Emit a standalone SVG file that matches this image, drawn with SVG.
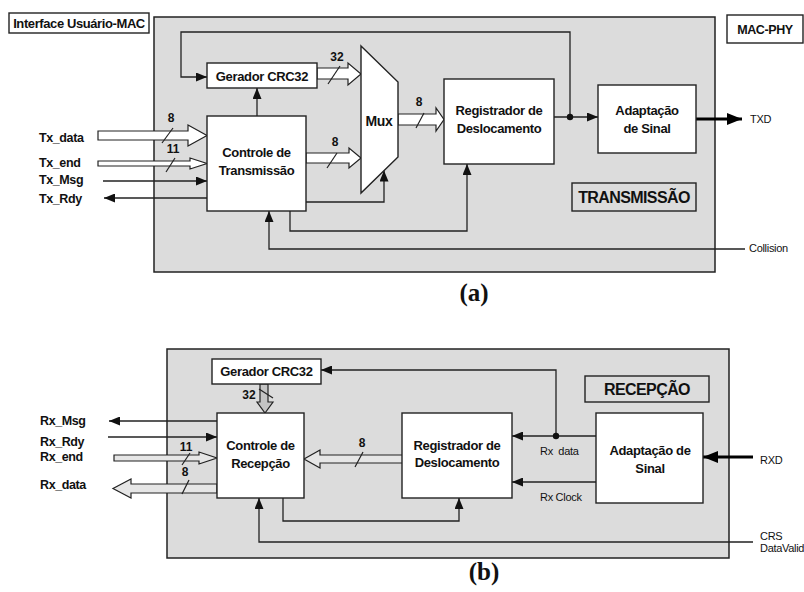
<svg xmlns="http://www.w3.org/2000/svg" width="804" height="592" viewBox="0 0 804 592">
  <style>
    .panel { fill: #dcdcdc; stroke: #222; stroke-width: 1.5; }
    .box { fill: #fff; stroke: #222; stroke-width: 1.4; }
    .tag { fill: #dcdcdc; stroke: #222; stroke-width: 1.4; }
    .wire { fill: none; stroke: #222; stroke-width: 1.3; }
    .thick { fill: none; stroke: #000; stroke-width: 3; }
    .bus { fill: #fff; stroke: #222; stroke-width: 1.2; }
    .busg { fill: #e6e6e6; stroke: #222; stroke-width: 1.2; }
    .busd { fill: #c4c4c4; stroke: #222; stroke-width: 1.2; }
    .slash { stroke: #222; stroke-width: 1.2; }
    .dot { fill: #111; }
    text { font-family: "Liberation Sans", Arial, sans-serif; fill: #111; }
    .lbl { font-size: 13px; font-weight: bold; letter-spacing: -0.35px; text-anchor: middle; }
    .sig { font-size: 12.5px; font-weight: bold; letter-spacing: -0.4px; }
    .num { font-size: 12px; font-weight: bold; text-anchor: middle; }
    .small { font-size: 11px; letter-spacing: -0.3px; }
    .title { font-size: 16px; font-weight: bold; letter-spacing: -0.6px; text-anchor: middle; }
    .cap { font-family: "Liberation Serif", "Times New Roman", serif; font-size: 25px; font-weight: bold; text-anchor: middle; }
  </style>
  <defs>
    <marker id="arr" markerUnits="userSpaceOnUse" markerWidth="12" markerHeight="9" refX="11" refY="4.5" orient="auto">
      <path d="M0,0 L11,4.5 L0,9 z" fill="#111"/>
    </marker>
    <marker id="arrBig" markerUnits="userSpaceOnUse" markerWidth="16" markerHeight="12" refX="15" refY="6" orient="auto">
      <path d="M0,0 L15,6 L0,12 z" fill="#000"/>
    </marker>
  </defs>

  <!-- ===== (a) transmit path ===== -->
  <rect id="panel-tx" class="panel" x="154" y="17" width="561" height="255"/>

  <g id="user-mac">
    <rect class="box" x="9" y="13" width="140" height="20"/>
    <text class="sig" x="79" y="27.5" text-anchor="middle" style="font-size:13px">Interface Usuário-MAC</text>
  </g>
  <g id="mac-phy">
    <rect class="box" x="727" y="15" width="76" height="28"/>
    <text class="sig" x="765" y="33.5" text-anchor="middle">MAC-PHY</text>
  </g>

  <g id="connectors-tx">
    <polyline class="wire" points="570,117 570,32 181,32 181,77 207,77" marker-end="url(#arr)"/>
    <line class="wire" x1="554" y1="117" x2="598" y2="117" marker-end="url(#arr)"/>
    <circle class="dot" cx="570" cy="117" r="3.2"/>
    <line class="wire" x1="257" y1="116" x2="257" y2="88" marker-end="url(#arr)"/>
    <line class="wire" x1="103" y1="181" x2="207" y2="181" marker-end="url(#arr)"/>
    <line class="wire" x1="207" y1="198" x2="104" y2="198" marker-end="url(#arr)"/>
    <polyline class="wire" points="306,202 384,202 384,170.5" marker-end="url(#arr)"/>
    <polyline class="wire" points="290,211 290,231 467,231 467,164" marker-end="url(#arr)"/>
    <polyline class="wire" points="745,249 269,249 269,211" marker-end="url(#arr)"/>
    <line class="thick" x1="696" y1="119" x2="742" y2="119" marker-end="url(#arrBig)"/>

    <!-- buses -->
    <polygon class="bus" points="98,131 188,131 188,125 207,135.5 188,146 188,140 98,140"/>
    <polygon class="bus" points="98,161 190,161 190,158 207,163.5 190,169 190,166 98,166"/>
    <polygon class="bus" points="317,68 348,68 348,63 361,74 348,85 348,79 317,79"/>
    <polygon class="bus" points="306,153 349,153 349,148 361,158 349,168 349,163 306,163"/>
    <polygon class="bus" points="398,114 436,114 436,108 444,119.5 436,131 436,125 398,125"/>

    <!-- bus widths -->
    <line class="slash" x1="162" y1="143" x2="173" y2="128"/>
    <text class="num" x="171" y="122">8</text>
    <line class="slash" x1="166" y1="172" x2="175" y2="158"/>
    <text class="num" x="173" y="153">11</text>
    <line class="slash" x1="328" y1="84" x2="340" y2="66"/>
    <text class="num" x="337" y="61">32</text>
    <line class="slash" x1="327" y1="168" x2="337" y2="153"/>
    <text class="num" x="335" y="146">8</text>
    <line class="slash" x1="416" y1="128" x2="424" y2="113"/>
    <text class="num" x="419" y="106">8</text>
  </g>

  <g id="tx-signals">
    <text class="sig" x="39" y="142">Tx_data</text>
    <text class="sig" x="39" y="167">Tx_end</text>
    <text class="sig" x="39" y="184">Tx_Msg</text>
    <text class="sig" x="39" y="203">Tx_Rdy</text>
    <text class="small" x="750" y="123">TXD</text>
    <text class="small" x="749" y="252">Collision</text>
  </g>

  <g id="crc-tx">
    <rect class="box" x="207" y="63" width="110" height="25"/>
    <text class="lbl" x="262" y="80.5">Gerador CRC32</text>
  </g>
  <g id="ctrl-tx">
    <rect class="box" x="207" y="116" width="99" height="95"/>
    <text class="lbl" x="256.5" y="156.5">Controle de</text>
    <text class="lbl" x="256.5" y="174.5">Transmissão</text>
  </g>
  <g id="mux">
    <polygon class="box" points="361,46 398,82 398,157 361,193"/>
    <text class="lbl" x="379" y="126" style="font-size:14px">Mux</text>
  </g>
  <g id="shift-tx">
    <rect class="box" x="444" y="79" width="110" height="85"/>
    <text class="lbl" x="499" y="114.5">Registrador de</text>
    <text class="lbl" x="499" y="132.5">Deslocamento</text>
  </g>
  <g id="adapt-tx">
    <rect class="box" x="598" y="85" width="98" height="68"/>
    <text class="lbl" x="647" y="114.5">Adaptação</text>
    <text class="lbl" x="647" y="132.5">de Sinal</text>
  </g>
  <g id="title-tx">
    <rect class="tag" x="572" y="183" width="124" height="28"/>
    <text class="title" x="634" y="202.5">TRANSMISSÃO</text>
  </g>
  <text class="cap" x="474" y="301">(a)</text>

  <!-- ===== (b) receive path ===== -->
  <rect id="panel-rx" class="panel" x="167" y="349" width="562" height="209"/>

  <g id="connectors-rx">
    <line class="wire" x1="596" y1="436" x2="512" y2="436" marker-end="url(#arr)"/>
    <polyline class="wire" points="556,436 556,370 321,370" marker-end="url(#arr)"/>
    <circle class="dot" cx="556" cy="436" r="3.2"/>
    <line class="wire" x1="596" y1="482" x2="512" y2="482" marker-end="url(#arr)"/>
    <line class="thick" x1="753" y1="457" x2="703" y2="457" marker-end="url(#arrBig)"/>
    <polyline class="wire" points="283,498 283,521 459,521 459,498" marker-end="url(#arr)"/>
    <polyline class="wire" points="753,542 259,542 259,498" marker-end="url(#arr)"/>
    <line class="wire" x1="217" y1="421" x2="109" y2="421" marker-end="url(#arr)"/>
    <line class="wire" x1="108" y1="437" x2="217" y2="437" marker-end="url(#arr)"/>

    <!-- buses -->
    <polygon class="busg" points="114,455 199,455 199,452 217,458 199,464 199,461 114,461"/>
    <polygon class="busg" points="217,484 131,484 131,479 113,488.5 131,498 131,493 217,493"/>
    <polygon class="busg" points="403,455 320,455 320,450 304,459 320,468 320,463 403,463"/>
    <polygon class="busd" points="260,384 268,384 268,402 273,402 265,413 257,402 260,402"/>

    <!-- bus widths -->
    <line class="slash" x1="259" y1="389" x2="273" y2="398"/>
    <text class="num" x="249" y="399">32</text>
    <line class="slash" x1="182" y1="465" x2="190" y2="453"/>
    <text class="num" x="186" y="451">11</text>
    <line class="slash" x1="182" y1="494" x2="189" y2="480"/>
    <text class="num" x="185" y="476">8</text>
    <line class="slash" x1="355" y1="467" x2="363" y2="452"/>
    <text class="num" x="362" y="447">8</text>
  </g>

  <g id="rx-signals">
    <text class="sig" x="40" y="425">Rx_Msg</text>
    <text class="sig" x="40" y="446">Rx_Rdy</text>
    <text class="sig" x="40" y="461">Rx_end</text>
    <text class="sig" x="40" y="489">Rx_data</text>
    <text class="small" x="540" y="455" xml:space="preserve">Rx  data</text>
    <text class="small" x="540" y="501">Rx Clock</text>
    <text class="small" x="760" y="464">RXD</text>
    <text class="small" x="760" y="540">CRS</text>
    <text class="small" x="760" y="552">DataValid</text>
  </g>

  <g id="crc-rx">
    <rect class="box" x="212" y="359" width="109" height="25"/>
    <text class="lbl" x="266.5" y="376">Gerador CRC32</text>
  </g>
  <g id="ctrl-rx">
    <rect class="box" x="217" y="413" width="87" height="85"/>
    <text class="lbl" x="260.5" y="449.5">Controle de</text>
    <text class="lbl" x="260.5" y="467.5">Recepção</text>
  </g>
  <g id="shift-rx">
    <rect class="box" x="402" y="413" width="110" height="85"/>
    <text class="lbl" x="457" y="449.5">Registrador de</text>
    <text class="lbl" x="457" y="466.5">Deslocamento</text>
  </g>
  <g id="adapt-rx">
    <rect class="box" x="596" y="413" width="107" height="90"/>
    <text class="lbl" x="650" y="455">Adaptação de</text>
    <text class="lbl" x="650" y="472.5">Sinal</text>
  </g>
  <g id="title-rx">
    <rect class="tag" x="585" y="376" width="124" height="26"/>
    <text class="title" x="647" y="394.5">RECEPÇÃO</text>
  </g>
  <text class="cap" x="484" y="580">(b)</text>
</svg>
